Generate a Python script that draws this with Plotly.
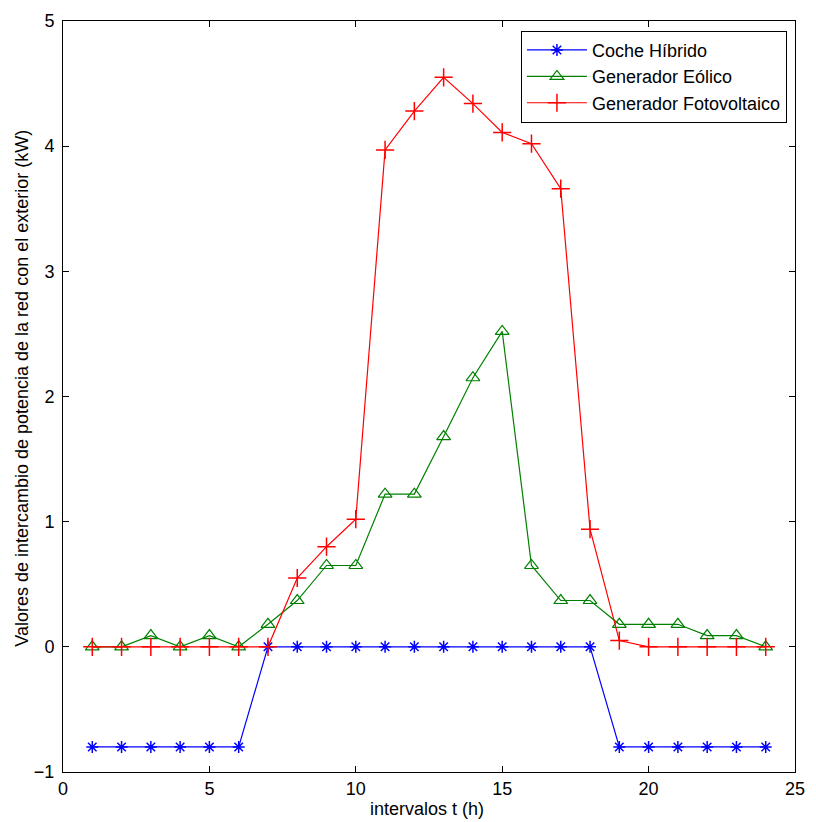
import plotly.graph_objects as go

hours = list(range(1, 25))
coche_hibrido = [-0.8]*6 + [0]*12 + [-0.8]*6
gen_eolico = [0, 0, 0.09, 0, 0.09, 0, 0.18, 0.37, 0.65, 0.65, 1.22, 1.22,
              1.68, 2.15, 2.52, 0.65, 0.37, 0.37, 0.18, 0.18, 0.18, 0.09, 0.09, 0]
gen_fotovoltaico = [0, 0, 0, 0, 0, 0, 0, 0.55, 0.80, 1.02, 3.97, 4.28,
                    4.55, 4.34, 4.11, 4.02, 3.66, 0.94, 0.05, 0, 0, 0, 0, 0]

x_ticks = [0, 5, 10, 15, 20, 25]
y_ticks = [-1, 0, 1, 2, 3, 4, 5]

font = "Liberation Sans, Arial, sans-serif"
FS = 18

fig = go.Figure()
fig.add_trace(go.Scatter(
    x=hours, y=coche_hibrido, mode="lines+markers", name="Coche Híbrido",
    line=dict(color="#0000FF", width=1.2),
    marker=dict(symbol="asterisk-open", size=10, line=dict(color="#0000FF", width=1.5), color="#0000FF")))
fig.add_trace(go.Scatter(
    x=hours, y=gen_eolico, mode="lines+markers", name="Generador Eólico",
    line=dict(color="#008000", width=1.2),
    marker=dict(symbol="triangle-up-open", size=12, line=dict(color="#008000", width=1.2), color="#008000")))
fig.add_trace(go.Scatter(
    x=hours, y=gen_fotovoltaico, mode="lines+markers", name="Generador Fotovoltaico",
    line=dict(color="#FF0000", width=1.2),
    marker=dict(symbol="cross-thin-open", size=13, line=dict(color="#FF0000", width=1.5), color="#FF0000")))

axis_common = dict(
    showgrid=False, zeroline=False, showline=True, linecolor="black", linewidth=1,
    mirror="ticks", ticks="inside", ticklen=6, tickcolor="black",
    tickfont=dict(family=font, size=FS, color="black"),
)

fig.update_layout(
    width=816, height=822,
    margin=dict(l=63, r=11, t=20, b=50),
    paper_bgcolor="white", plot_bgcolor="white",
    font=dict(family=font, size=FS, color="black"),
    xaxis=dict(range=[0, 25], tickvals=x_ticks, **axis_common),
    yaxis=dict(range=[-1, 5], tickvals=y_ticks, ticklabelstandoff=4, **axis_common),
    legend=dict(x=0.989, y=0.987, xanchor="right", yanchor="top",
                bgcolor="white", bordercolor="black", borderwidth=1,
                font=dict(family=font, size=FS, color="black"),
                tracegroupgap=0, itemwidth=60),
    showlegend=True,
    annotations=[
        dict(text="Valores de intercambio de potencia de la red con el exterior (kW)",
             xref="paper", yref="paper", x=-0.0553, y=0.511,
             xanchor="center", yanchor="middle", textangle=-90, showarrow=False,
             font=dict(family=font, size=FS, color="black")),
        dict(text="intervalos t (h)",
             xref="paper", yref="paper", x=0.497, y=-0.0492,
             xanchor="center", yanchor="middle", showarrow=False,
             font=dict(family=font, size=FS, color="black")),
    ],
)

fig.write_html("out.html")
